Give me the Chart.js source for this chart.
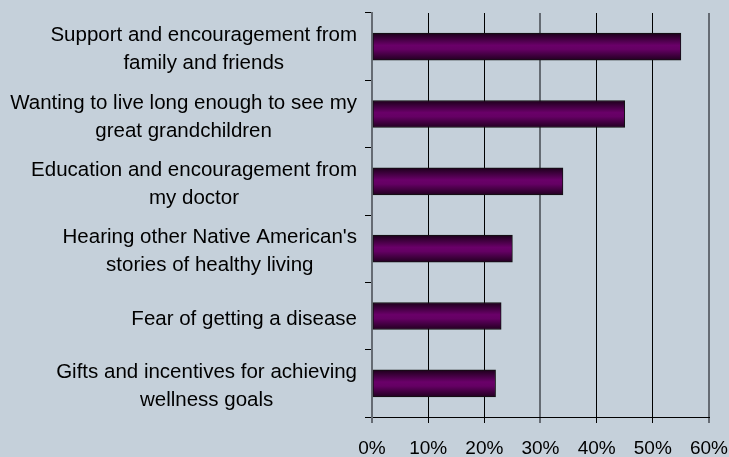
<!DOCTYPE html>
<html>
<head>
<meta charset="utf-8">
<script src="https://cdn.jsdelivr.net/npm/chart.js@4.4.0/dist/chart.umd.min.js"></script>
<style>
  html, body { margin: 0; padding: 0; background: #c5d0da; }
  #wrap { width: 729px; height: 457px; }
</style>
</head>
<body>
<div id="wrap"><canvas id="grafico" width="729" height="457"></canvas></div>
<script>
let categorias = [
    ["Support and encouragement from", "family and friends"],
    ["Wanting to live long enough to see my", "great grandchildren"],
    ["Education and encouragement from", "my doctor"],
    ["Hearing other Native American's", "stories of healthy living"],
    ["Fear of getting a disease"],
    ["Gifts and incentives for achieving", "wellness goals"]
];
let valores = [55, 45, 34, 25, 23, 22];
let ticksX = [0, 10, 20, 30, 40, 50, 60];

let fonte = '"Liberation Sans", Arial, sans-serif';

// gradiente roxo tipo cilindro, calculado pela posicao da categoria
function corBarra(c) {
    let escala = c.chart.scales && c.chart.scales.y;
    if (!escala || escala.top === undefined) return '#660066';
    let meio = escala.getPixelForValue(c.dataIndex);
    let g = c.chart.ctx.createLinearGradient(0, meio - 13.5, 0, meio + 13.5);
    g.addColorStop(0, '#1c001a');
    g.addColorStop(0.45, '#6a0069');
    g.addColorStop(0.6, '#650064');
    g.addColorStop(1, '#220020');
    return g;
}

// rotulos do eixo y: bloco alinhado a direita, linhas centralizadas
let rotulos = {
    id: 'rotulos',
    afterDraw(chart) {
        let c = chart.ctx;
        let y = chart.scales.y;
        c.save();
        c.font = '20.5px ' + fonte;
        c.fillStyle = '#000';
        c.textAlign = 'center';
        c.textBaseline = 'middle';
        categorias.forEach((linhas, i) => {
            let largura = Math.max(...linhas.map(l => c.measureText(l).width));
            let cx = chart.chartArea.left - 15 - largura / 2;
            let cy = y.getPixelForTick(i) + 3;
            linhas.forEach((l, j) => {
                c.fillText(l, cx, cy + (j - (linhas.length - 1) / 2) * 28);
            });
        });
        c.restore();
    }
};

let grafico = new Chart(document.getElementById('grafico'), {
    type: 'bar',
    data: {
        labels: categorias,
        datasets: [{
            data: valores,
            backgroundColor: corBarra,
            borderColor: '#111',
            borderWidth: 1,
            borderSkipped: false,
            barThickness: 27
        }]
    },
    options: {
        indexAxis: 'y',
        responsive: false,
        animation: false,
        layout: { padding: { top: 13, right: 0, left: 0, bottom: 0 } },
        plugins: {
            legend: { display: false },
            tooltip: { enabled: false }
        },
        scales: {
            x: {
                min: ticksX[0],
                max: ticksX[ticksX.length - 1],
                afterBuildTicks: (s) => { s.ticks = ticksX.map(v => ({ value: v })); },
                afterFit: (s) => { s.height = 40; },
                ticks: {
                    callback: (v) => v + '%',
                    color: '#000',
                    font: { size: 19, family: fonte, lineHeight: 2.65 },
                    padding: 1,
                    maxRotation: 0
                },
                grid: {
                    color: (c) => (c.tick && c.tick.value % 30 === 0) ? '#656b73' : '#000',
                    lineWidth: (c) => (c.tick && c.tick.value % 30 === 0) ? 2 : 1,
                    tickLength: 6
                },
                border: { color: '#000', width: 1 }
            },
            y: {
                afterFit: (s) => { s.width = 372; },
                ticks: { display: false },
                grid: {
                    drawOnChartArea: false,
                    color: '#000',
                    tickLength: 7
                },
                border: { color: '#656b73', width: 2 }
            }
        }
    },
    plugins: [rotulos]
});
</script>
</body>
</html>
